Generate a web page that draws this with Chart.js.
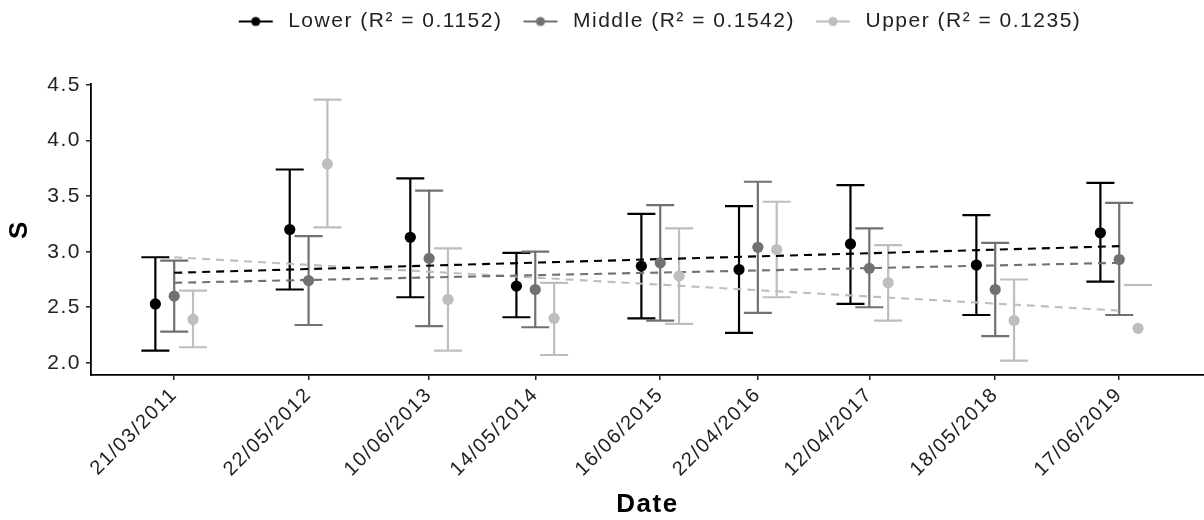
<!DOCTYPE html>
<html>
<head>
<meta charset="utf-8">
<script src="https://cdn.jsdelivr.net/npm/chart.js@4.4.1/dist/chart.umd.min.js"></script>
<style>
  html, body { margin: 0; padding: 0; background: #fff; }
  #chart { display: block; }
</style>
</head>
<body>
<canvas id="chart" width="1204" height="520"></canvas>
<script>
// survey dates (dd/mm/yyyy)
const dateLabels = ['21/03/2011', '22/05/2012', '10/06/2013', '14/05/2014', '16/06/2015',
                    '22/04/2016', '12/04/2017', '18/05/2018', '17/06/2019'];

const seriesNames = ['Lower', 'Middle', 'Upper'];
const rSquared = ['0.1152', '0.1542', '0.1235'];

const lowerMean = [2.53, 3.20, 3.13, 2.69, 2.87, 2.84, 3.07, 2.88, 3.17];
const lowerHigh = [2.95, 3.74, 3.66, 2.99, 3.34, 3.41, 3.60, 3.33, 3.62];
const lowerLow  = [2.11, 2.66, 2.59, 2.41, 2.40, 2.27, 2.53, 2.43, 2.73];

const middleMean = [2.60, 2.74, 2.94, 2.66, 2.90, 3.04, 2.85, 2.66, 2.93];
const middleHigh = [2.92, 3.14, 3.55, 3.00, 3.42, 3.63, 3.21, 3.08, 3.44];
const middleLow  = [2.28, 2.34, 2.33, 2.32, 2.38, 2.45, 2.50, 2.24, 2.43];

const upperMean = [2.39, 3.79, 2.57, 2.40, 2.78, 3.02, 2.72, 2.38, 2.31];
const upperHigh = [2.65, 4.37, 3.03, 2.72, 3.21, 3.45, 3.06, 2.75, 2.70];
const upperLow  = [2.14, 3.22, 2.11, 2.07, 2.35, 2.59, 2.38, 2.02, null];

// fitted trend, value at first and last date
const lowerTrend  = [2.81, 3.05];
const middleTrend = [2.72, 2.90];
const upperTrend  = [2.95, 2.47];

const yTicks = [2.0, 2.5, 3.0, 3.5, 4.0, 4.5];

// ---- helpers ----
function toDay(label) {
  const [d, m, y] = label.split('/').map(Number);
  return Date.UTC(y, m - 1, d) / 864e5;
}
const day0 = toDay(dateLabels[0]);
const days = dateLabels.map(l => toDay(l) - day0);
const lastDay = days[days.length - 1];

const colors = ['#000000', '#717171', '#bebebe'];
const dodge = [-60, 0, 60];   // days
const means = [lowerMean, middleMean, upperMean];
const highs = [lowerHigh, middleHigh, upperHigh];
const lows = [lowerLow, middleLow, upperLow];
const trends = [lowerTrend, middleTrend, upperTrend];

// legend key: short line with a dot
function legendIcon(color) {
  const c = document.createElement('canvas');
  c.width = 44; c.height = 12;
  const g = c.getContext('2d');
  g.strokeStyle = color; g.lineWidth = 2.2;
  g.beginPath(); g.moveTo(5, 6); g.lineTo(39, 6); g.stroke();
  g.fillStyle = color;
  g.beginPath(); g.arc(22, 6, 4.6, 0, Math.PI * 2); g.fill();
  return c;
}
const icons = colors.map(legendIcon);

const errorBars = {
  id: 'errorBars',
  beforeDatasetsDraw(chart) {
    const { ctx, scales: { x, y } } = chart;
    ctx.save();
    ctx.lineWidth = 2.2;
    for (let s = 0; s < 3; s++) {
      ctx.strokeStyle = colors[s];
      days.forEach((d, j) => {
        const px = x.getPixelForValue(d + dodge[s]);
        const hi = highs[s][j], lo = lows[s][j];
        ctx.beginPath();
        if (hi != null && lo != null) {
          ctx.moveTo(px, y.getPixelForValue(hi));
          ctx.lineTo(px, y.getPixelForValue(lo));
        }
        [hi, lo].forEach(v => {
          if (v == null) return;
          const py = y.getPixelForValue(v);
          ctx.moveTo(px - 14, py);
          ctx.lineTo(px + 14, py);
        });
        ctx.stroke();
      });
    }
    ctx.restore();
  }
};

// space between legend and panel, legend centred a bit right like the original
const legendSpace = {
  id: 'legendSpace',
  beforeInit(chart) {
    const fit = chart.legend.fit;
    chart.legend.fit = function () {
      fit.call(this);
      this.height = 84;
    };
  },
  afterLayout(chart) {
    const lg = chart.legend;
    lg.left += 10; lg.right += 10;
    lg.top -= 5; lg.bottom -= 5;
  }
};

// the original text is set rather wide
const wideText = {
  id: 'wideText',
  beforeUpdate(chart) { chart.ctx.letterSpacing = '1.5px'; },
  beforeDraw(chart) { chart.ctx.letterSpacing = '1.5px'; }
};

const pointSets = seriesNames.map((name, s) => ({
  label: name + ' (R\u00B2 = ' + rSquared[s] + ')',
  data: days.map((d, j) => ({ x: d + dodge[s], y: means[s][j] })),
  backgroundColor: colors[s],
  borderWidth: 0,
  pointRadius: 5.6,
  showLine: false
}));

const trendSets = seriesNames.map((name, s) => ({
  label: name + ' trend',
  data: [{ x: days[0], y: trends[s][0] }, { x: lastDay, y: trends[s][1] }],
  borderColor: colors[s],
  borderWidth: 2.1,
  borderDash: [8, 6],
  pointRadius: 0,
  showLine: true,
  fill: false
}));

Chart.defaults.font.family = '"Liberation Sans", Arial, sans-serif';
Chart.defaults.color = '#222';

new Chart(document.getElementById('chart'), {
  type: 'scatter',
  data: { datasets: [...pointSets, ...trendSets] },
  options: {
    responsive: false,
    animation: false,
    layout: { padding: 0, autoPadding: false },
    plugins: {
      tooltip: { enabled: false },
      legend: {
        position: 'top',
        fullSize: false,
        labels: {
          usePointStyle: true,
          pointStyleWidth: 44,
          padding: 16,
          color: '#222',
          font: { size: 21 },
          filter: item => item.datasetIndex < 3,
          generateLabels(chart) {
            return Chart.defaults.plugins.legend.labels.generateLabels(chart)
              .map(item => Object.assign(item, { pointStyle: icons[item.datasetIndex] || 'circle' }));
          }
        }
      }
    },
    scales: {
      x: {
        type: 'linear',
        min: -265,
        max: lastDay + 270,
        afterBuildTicks(scale) {
          scale.ticks = days.map(d => ({ value: d }));
        },
        afterFit(scale) {
          scale.height = 145;
        },
        border: { display: true, color: '#000', width: 1.8 },
        grid: { display: true, drawOnChartArea: false, drawTicks: true, tickLength: 5, color: '#222', lineWidth: 1.5 },
        ticks: {
          autoSkip: false,
          minRotation: 45,
          maxRotation: 45,
          padding: 3,
          font: { size: 20 },
          callback: (v, i) => dateLabels[i]
        },
        title: {
          display: true,
          text: 'Date',
          font: { size: 26, weight: 'bold' },
          color: '#000',
          padding: { top: 0, bottom: 0 }
        }
      },
      y: {
        min: 1.89,
        max: 4.51,
        afterBuildTicks(scale) {
          scale.ticks = yTicks.map(v => ({ value: v }));
        },
        afterFit(scale) { scale.width = 91; },
        border: { display: true, color: '#000', width: 1.8 },
        grid: { display: true, drawOnChartArea: false, drawTicks: true, tickLength: 5, color: '#222', lineWidth: 1.5 },
        ticks: {
          padding: 5,
          font: { size: 21 },
          callback: v => v.toFixed(1)
        },
        title: {
          display: true,
          text: 'S',
          font: { size: 26, weight: 'bold' },
          color: '#000',
          padding: { top: 4, bottom: 0 }
        }
      }
    }
  },
  plugins: [errorBars, legendSpace, wideText]
});
</script>
</body>
</html>
